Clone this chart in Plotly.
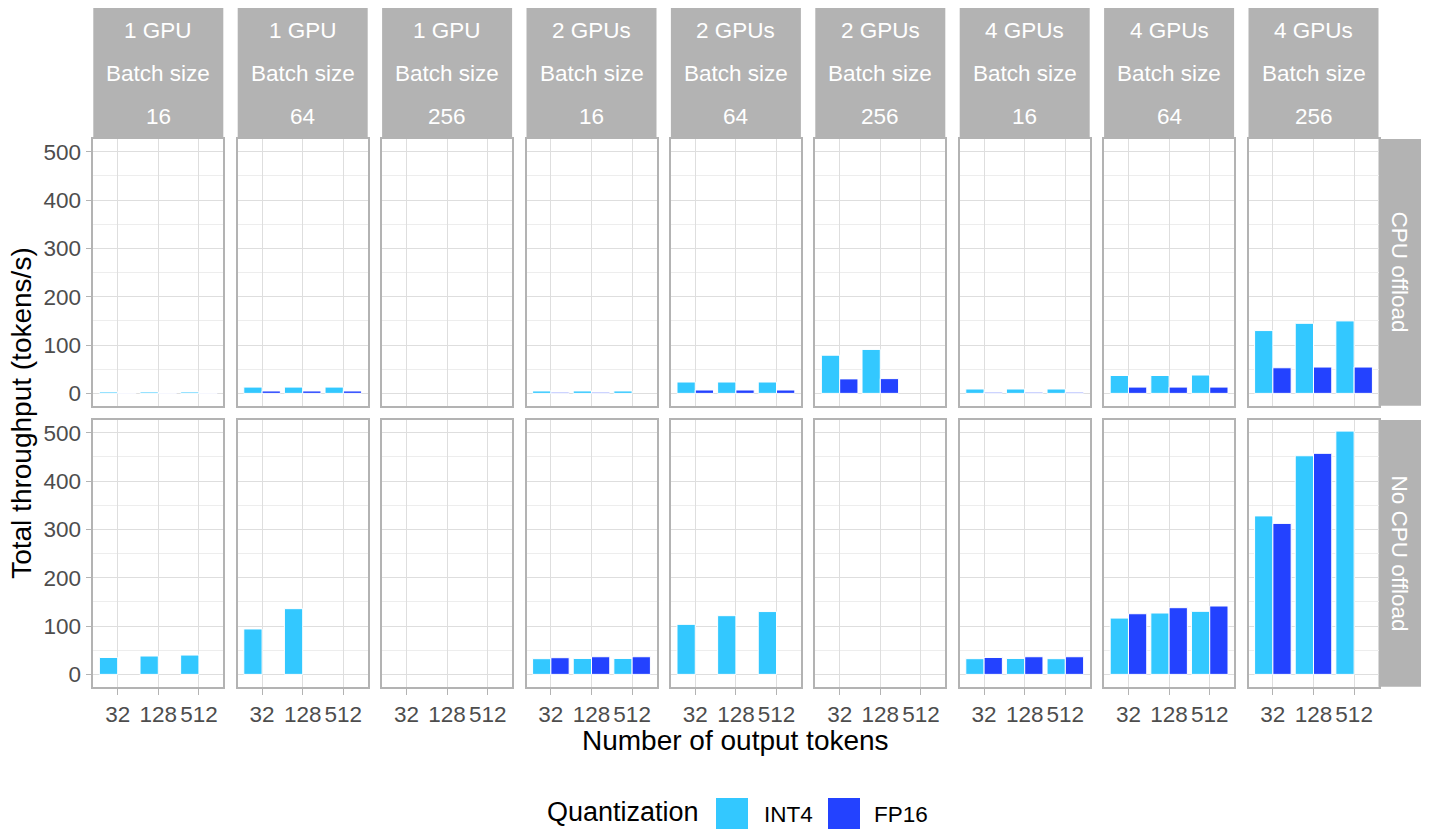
import plotly.graph_objects as go

# ---------------- data ----------------
tokens = ["32", "128", "512"]
gpu_labels = ["1 GPU", "1 GPU", "1 GPU", "2 GPUs", "2 GPUs", "2 GPUs", "4 GPUs", "4 GPUs", "4 GPUs"]
batch_labels = ["16", "64", "256", "16", "64", "256", "16", "64", "256"]
offload_labels = ["CPU offload", "No CPU offload"]
series_names = ["INT4", "FP16"]

int4_offload = [[3, 3, 3], [13, 13, 13], [None, None, None], [5, 5, 5], [23.5, 23.5, 23.5],
                [79, 91, None], [9, 9, 9], [37, 37, 38], [130, 145, 150]]
fp16_offload = [[1, 1, 1], [5, 5, 5], [None, None, None], [2.5, 2.5, None], [7, 7, 7],
                [30, 30.5, None], [2.5, 2.5, 2.5], [13, 13, 13], [53, 54.5, 54.5]]
int4_nooffload = [[35, 38, 40], [94, 136, None], [None, None, None], [32.5, 33, 33],
                  [103.5, 121.5, 130], [None, None, None], [32.5, 33, 32.5],
                  [116.5, 127, 130.5], [328, 452.5, 503.5]]
fp16_nooffload = [[None, None, None], [None, None, None], [None, None, None], [34.5, 36.5, 36.5],
                  [None, None, None], [None, None, None], [35, 36.5, 36.5],
                  [125.5, 138, 141.5], [312.5, 457.5, None]]

y_ticks = [0, 100, 200, 300, 400, 500]

# ---------------- styling / geometry ----------------
W, H = 1429, 829
FONT = "Liberation Sans, Arial, sans-serif"
C_INT4 = "#33C8FF"
C_FP16 = "#2342FF"
STRIP = "#B3B3B3"
BORDER = "#B3B3B3"
GRID = "#DEDEDE"
GRID_MINOR = "#EDEDED"
TICKTXT = "#4D4D4D"
SMALL = 22.5
BIG = 28

col_left0, col_w, col_step = 93.3, 130.0, 144.4
rows_px = [(139.0, 405.7), (420.0, 686.7)]
strip_top, strip_bot = 8.0, 138.6
rstrip_l, rstrip_r = 1378.5, 1421.0

fig = go.Figure()
data_rows = [(int4_offload, fp16_offload), (int4_nooffload, fp16_nooffload)]

layout_axes = {}
k = 0
for r in range(2):
    top, bot = rows_px[r]
    for c in range(9):
        k += 1
        xa = "x" if k == 1 else f"x{k}"
        ya = "y" if k == 1 else f"y{k}"
        left = col_left0 + c * col_step
        i4, f16 = data_rows[r][0][c], data_rows[r][1][c]
        fig.add_trace(go.Bar(x=tokens, y=i4, name=series_names[0], marker_color=C_INT4,
                             marker_line=dict(color="white", width=1), offset=-0.45, width=0.45,
                             xaxis=xa, yaxis=ya, showlegend=False))
        fig.add_trace(go.Bar(x=tokens, y=f16, name=series_names[1], marker_color=C_FP16,
                             marker_line=dict(color="white", width=1), offset=0.0, width=0.45,
                             xaxis=xa, yaxis=ya, showlegend=False))
        xname = "xaxis" if k == 1 else f"xaxis{k}"
        yname = "yaxis" if k == 1 else f"yaxis{k}"
        layout_axes[xname] = dict(
            domain=[left / W, (left + col_w) / W], anchor=ya, type="category",
            categoryorder="array", categoryarray=tokens, range=[-0.6, 2.6],
            showgrid=True, gridcolor=GRID, gridwidth=1.2, zeroline=False,
            showline=True, linecolor=BORDER, linewidth=1.6, mirror=True,
            ticks="outside" if r == 1 else "", ticklen=6, tickwidth=1.2, tickcolor=BORDER,
            showticklabels=(r == 1), tickfont=dict(family=FONT, size=SMALL, color=TICKTXT),
            fixedrange=True,
        )
        layout_axes[yname] = dict(
            domain=[1 - bot / H, 1 - top / H], anchor=xa, range=[-25.5, 526.5],
            tickvals=y_ticks, showgrid=True, gridcolor=GRID, gridwidth=1.2, zeroline=False,
            minor=dict(dtick=50, tick0=0, showgrid=True, gridcolor=GRID_MINOR, gridwidth=0.8),
            showline=True, linecolor=BORDER, linewidth=1.6, mirror=True,
            ticks="outside" if c == 0 else "", ticklen=6, tickwidth=1.2, tickcolor=BORDER,
            showticklabels=(c == 0), tickfont=dict(family=FONT, size=SMALL, color=TICKTXT),
            fixedrange=True,
        )

shapes = []
annotations = []
# top strips
for c in range(9):
    left = col_left0 + c * col_step
    shapes.append(dict(type="rect", xref="paper", yref="paper", x0=left / W, x1=(left + col_w) / W,
                       y0=1 - strip_bot / H, y1=1 - strip_top / H, fillcolor=STRIP,
                       line=dict(width=0), layer="below"))
    cx = (left + col_w / 2) / W
    for txt, ypx in [(gpu_labels[c], 31.0), ("Batch size", 74.0), (batch_labels[c], 117.0)]:
        annotations.append(dict(text=txt, x=cx, y=1 - ypx / H, xref="paper", yref="paper",
                                showarrow=False, xanchor="center", yanchor="middle",
                                font=dict(family=FONT, size=SMALL, color="white")))
# right strips
for r in range(2):
    top, bot = rows_px[r]
    shapes.append(dict(type="rect", xref="paper", yref="paper", x0=rstrip_l / W, x1=rstrip_r / W,
                       y0=1 - bot / H, y1=1 - top / H, fillcolor=STRIP, line=dict(width=0),
                       layer="below"))
    annotations.append(dict(text=offload_labels[r], x=(rstrip_l + rstrip_r) / 2 / W,
                            y=1 - (top + bot) / 2 / H, xref="paper", yref="paper",
                            showarrow=False, textangle=90, xanchor="center", yanchor="middle",
                            font=dict(family=FONT, size=SMALL, color="white")))

# axis titles
annotations.append(dict(text="Number of output tokens", x=(col_left0 + (col_left0 + 8 * col_step + col_w)) / 2 / W,
                        y=1 - 740 / H, xref="paper", yref="paper", showarrow=False,
                        xanchor="center", yanchor="middle", font=dict(family=FONT, size=BIG, color="black")))
annotations.append(dict(text="Total throughput (tokens/s)", x=22 / W, y=1 - 412.8 / H,
                        xref="paper", yref="paper", showarrow=False, textangle=-90,
                        xanchor="center", yanchor="middle", font=dict(family=FONT, size=BIG, color="black")))

# legend (drawn as decoration)
annotations.append(dict(text="Quantization", x=545 / W, y=1 - 812 / H, xref="paper", yref="paper",
                        showarrow=False, xanchor="left", yanchor="middle",
                        font=dict(family=FONT, size=27, color="black")))
for name, col, kx, tx in [(series_names[0], C_INT4, 716, 762), (series_names[1], C_FP16, 828, 872)]:
    shapes.append(dict(type="rect", xref="paper", yref="paper", x0=kx / W, x1=(kx + 32) / W,
                       y0=1 - 830 / H, y1=1 - 798 / H, fillcolor=col, line=dict(width=0)))
    annotations.append(dict(text=name, x=tx / W, y=1 - 814 / H, xref="paper", yref="paper",
                            showarrow=False, xanchor="left", yanchor="middle",
                            font=dict(family=FONT, size=SMALL, color="black")))

fig.update_layout(
    width=W, height=H, margin=dict(l=0, r=0, t=0, b=0),
    paper_bgcolor="white", plot_bgcolor="white", barmode="overlay",
    shapes=shapes, annotations=annotations, showlegend=False,
    font=dict(family=FONT),
    **layout_axes,
)

fig.write_html("out.html", config={"displayModeBar": False},
               post_script="document.body.style.margin='0';document.body.style.overflow='hidden';")
